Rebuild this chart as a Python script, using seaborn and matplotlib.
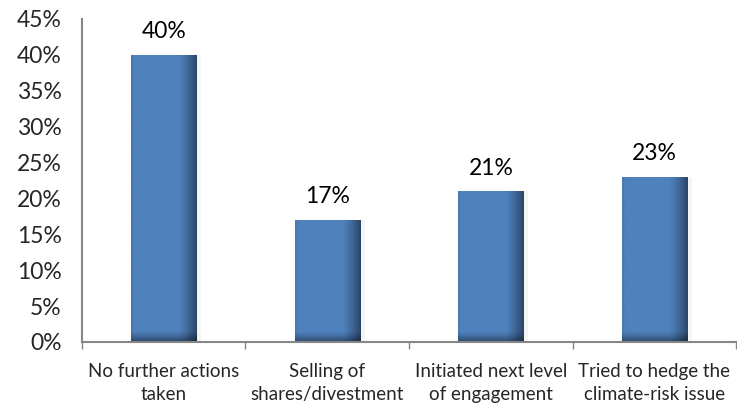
import numpy as np
import pandas as pd
import matplotlib
matplotlib.use("Agg")
import matplotlib.pyplot as plt
import seaborn as sns
from matplotlib.colors import to_rgb

categories = ["No further actions\ntaken", "Selling of\nshares/divestment",
              "Initiated next level\nof engagement", "Tried to hedge the\nclimate-risk issue"]
values = [40, 17, 21, 23]
yticks = [0, 5, 10, 15, 20, 25, 30, 35, 40, 45]

sns.set_theme(style="white")
plt.rcParams["font.family"] = ["Lato", "DejaVu Sans"]

df = pd.DataFrame({"category": categories, "value": values})

fig = plt.figure(figsize=(7.37, 4.13), dpi=100)
ax = fig.add_axes([0.111, 0.172, 0.888, 0.782])
sns.barplot(data=df, x="category", y="value", color="#4F81BD", width=0.4,
            saturation=1, ax=ax, edgecolor="none")

ax.set_ylim(0, 45)
ax.set_xlim(-0.5, len(categories) - 0.5)
ax.set_yticks(yticks)
ax.set_yticklabels([f"{t}%" for t in yticks], fontsize=16.5)
ax.set_xlabel("")
ax.set_ylabel("")
ax.tick_params(axis="x", labelsize=13.5, length=0, pad=15)
ax.tick_params(axis="y", length=6.5, color="#868686", direction="out", pad=8)
for lbl in ax.get_xticklabels():
    lbl.set_linespacing(1.45)
ax.set_xticks(np.arange(len(categories) + 1) - 0.5, minor=True)
ax.tick_params(axis="x", which="minor", length=5, color="#868686", direction="out")
ax.xaxis.set_tick_params(which="minor", bottom=True)
for s in ["top", "right"]:
    ax.spines[s].set_visible(False)
for s in ["left", "bottom"]:
    ax.spines[s].set_color("#868686")
    ax.spines[s].set_linewidth(1.5)

# Shaded fill for each bar: darker toward the right edge and the bottom
base = np.array(to_rgb("#4F81BD"))
nx, ny = 60, 200
u = np.linspace(0, 1, nx)
v = np.linspace(0, 1, ny)
hx = np.where(u < 0.72, 1.0, 1.0 - 0.45 * ((u - 0.72) / 0.28) ** 1.3)
hx = np.where(u < 0.04, 0.93 + 0.07 * u / 0.04, hx)
for patch in ax.patches:
    x0, y0 = patch.get_x(), patch.get_y()
    w, h = patch.get_width(), patch.get_height()
    if h <= 0:
        continue
    bottom_frac = 10.0 / (h * 7.18)
    vy = np.where(v < bottom_frac, 0.55 + 0.45 * (v / bottom_frac) ** 0.8, 1.0)
    shade = vy[:, None] * hx[None, :]
    img = base[None, None, :] * shade[:, :, None]
    im = ax.imshow(img, extent=[x0, x0 + w, y0, y0 + h], origin="lower",
                   aspect="auto", interpolation="bilinear", zorder=patch.get_zorder() + 0.1)
    im.set_clip_path(patch)
    # soft shadow to the right of the bar
    ax.fill_between([x0 + w, x0 + w + 0.03], 0, h, color="#000000", alpha=0.04,
                    linewidth=0, zorder=patch.get_zorder() - 0.1)

ax.set_xlim(-0.5, len(categories) - 0.5)
ax.set_ylim(0, 45)

for i, val in enumerate(values):
    ax.annotate(f"{val}%", xy=(i, val), xytext=(0, 9), textcoords="offset points",
                ha="center", va="bottom", fontsize=16.5, color="#000000")

fig.savefig("out.png", dpi=100)
